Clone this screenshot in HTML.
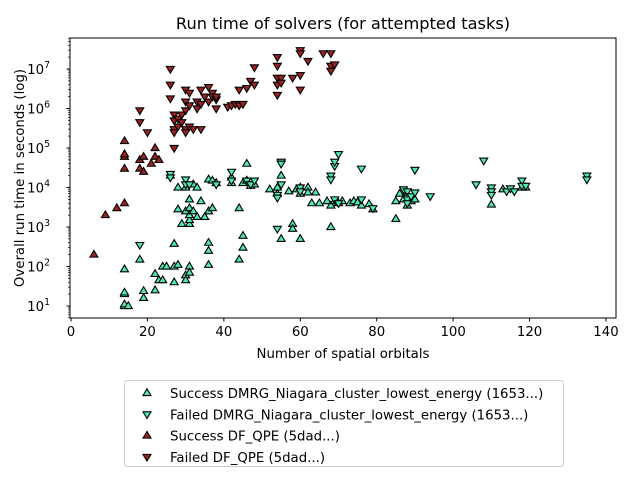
<!DOCTYPE html>
<html><head><meta charset="utf-8"><style>
body{margin:0;background:#fff;}
svg{display:block;font-family:"DejaVu Sans","Liberation Sans",sans-serif;}
</style></head><body>
<svg id="chart" width="640" height="480" viewBox="0 0 640 480" xmlns="http://www.w3.org/2000/svg">
<text x="343" y="29" font-size="16.2" text-anchor="middle">Run time of solvers (for attempted tasks)</text>
<g id="axes"></g>
<g id="marks"></g>
<rect x="70" y="38" width="546" height="280" fill="none" stroke="#000" stroke-width="1"/>
<text x="343" y="358" font-size="13.3" text-anchor="middle">Number of spatial orbitals</text>
<text transform="translate(24,178) rotate(-90)" font-size="13.3" text-anchor="middle">Overall run time in seconds (log)</text>
<g id="legend">
<rect x="124.5" y="380.5" width="439" height="86" rx="3" fill="#fff" stroke="#ccc"/>
</g>
</svg>
<script>
const xTicks=[0,20,40,60,80,100,120,140];
const yTicks=[1,2,3,4,5,6,7];
const seriesNames=["Success DMRG_Niagara_cluster_lowest_energy (1653...)","Failed DMRG_Niagara_cluster_lowest_energy (1653...)","Success DF_QPE (5dad...)","Failed DF_QPE (5dad...)"];
const successDmrgX=[14,14,14,14,14,15,18,19,19,22,22,23,24,24,25,26,27,27,27,28,28,28,29,30,30,30,30,31,31,31,31,31,31,31,32,32,33,33,34,35,36,36,36,36,36,37,37,38,42,42,44,44,45,45,45,46,46,47,48,52,54,54,55,55,57,58,58,59,60,60,60,62,62,63,64,65,67,68,68,69,70,71,73,74,75,76,78,79,85,85,86,87,88,89,90,110,113,118,119];
const successDmrgY=[10,11,20,22,85,10,150,16,24,25,65,45,100,45,100,20000,40,100,375,110,2800,10000,1200,60,45,2500,10000,100,70,1200,1500,2000,3000,5000,2500,12000,1800,10000,4500,1800,110,250,400,2500,16000,3000,15000,13000,13000,18000,150,3000,300,600,13000,40000,15000,11000,12000,9000,7000,10000,500,20000,8000,1200,900,9000,500,7000,10000,10000,7500,4000,7500,4000,4500,1000,3500,4500,4000,4500,4000,4500,4200,3500,3800,2800,1600,4500,7000,5000,3500,4500,5000,3700,9000,10000,10000];
const failedDmrgX=[18,26,26,30,30,31,38,42,42,46,47,48,54,54,54,55,55,55,60,60,68,68,69,69,70,69,70,76,76,79,87,88,88,88,88,88,89,90,90,94,106,108,110,110,110,114,115,116,118,118,119,135,135];
const failedDmrgY=[350,22000,18000,16000,12000,12000,12000,25000,15000,15000,12000,15000,6500,5500,900,45000,40000,12000,10000,8000,20000,16000,35000,45000,70000,5000,4000,30000,5000,3000,9000,8000,6000,5500,5000,4000,6000,28000,7500,6000,12000,48000,10000,8000,6500,8000,9500,8000,15000,11000,11000,20000,16000];
const successQpeX=[6,9,12,14,14,14,14,14,18,18,19,19,21,22,22,23];
const successQpeY=[200,2000,3000,4000,30000,60000,70000,150000,30000,50000,25000,60000,40000,60000,100000,50000];
const failedQpeX=[18,18,20,26,26,26,27,27,27,27,27,28,28,29,29,30,30,30,30,30,31,31,31,32,33,33,34,34,34,35,36,36,37,37,38,38,38,41,42,43,44,44,45,46,47,48,48,54,54,54,54,54,55,55,58,60,60,60,60,62,66,68,68,68,69];
const failedQpeY=[900000,450000,250000,10000000,4000000,1800000,700000,500000,300000,250000,100000,550000,350000,700000,450000,3000000,1500000,900000,300000,250000,2500000,1200000,350000,300000,1500000,1000000,3000000,1300000,300000,2000000,3500000,1500000,2500000,2000000,1700000,2000000,1000000,1100000,1200000,1300000,1200000,3000000,1300000,3300000,5000000,11000000,4000000,20000000,12000000,6000000,4000000,2200000,6000000,4500000,6000000,30000000,25000000,7000000,3000000,16000000,25000000,25000000,12000000,9000000,13000000];

const NS="http://www.w3.org/2000/svg";
function sx(v){return 71+v*(535/140);}
function sy(v){return 306-(Math.log10(v)-1)*39.5;}
function mk(tag,attrs,parent){const e=document.createElementNS(NS,tag);for(const k in attrs)e.setAttribute(k,attrs[k]);parent.appendChild(e);return e;}
const axes=document.getElementById('axes');
xTicks.forEach(t=>{
  const l=mk('line',{x1:sx(t),x2:sx(t),y1:318,y2:321.5,stroke:'#000'},axes);
  
  
  const tx=mk('text',{x:sx(t),y:336,'font-size':'13.3','text-anchor':'middle'},axes);
  tx.textContent=t;
  
  
});
yTicks.forEach(t=>{
  const y=306-(t-1)*39.5;
  const l=mk('line',{x1:66.5,x2:70,y1:y,y2:y,stroke:'#000'},axes);
  
  
  const tx=mk('text',{x:50,y:y+5,'font-size':'13.3','text-anchor':'end'},axes);
  tx.textContent='10';
  const sp=mk('tspan',{dy:'-6','font-size':'9.3'},tx);
  sp.textContent=t;
  
  
});
for(let d=0;d<8;d++){for(let m=2;m<10;m++){const v=Math.pow(10,d)*m;const y=sy(v);if(y<38||y>318)continue;
  const l=mk('line',{x1:68,x2:70,y1:y,y2:y,stroke:'#000','stroke-width':'0.7'},axes);
  
  }}
const marks=document.getElementById('marks');
function tri(x,y,up,fill,parent,name){
  const s=4.2;
  const pts=up?`${x},${y-s} ${x-s*0.95},${y+s*0.6} ${x+s*0.95},${y+s*0.6}`:`${x},${y+s} ${x-s*0.95},${y-s*0.6} ${x+s*0.95},${y-s*0.6}`;
  const p=mk('polygon',{points:pts,fill:fill,stroke:'#000','stroke-width':'1.1'},parent);
  
  
}
const series=[[successDmrgX,successDmrgY,true,'#4fe8b0'],[failedDmrgX,failedDmrgY,false,'#4fe8b0'],[successQpeX,successQpeY,true,'#9b2222'],[failedQpeX,failedQpeY,false,'#9b2222']];
series.forEach((s,i)=>{s[0].forEach((x,j)=>tri(sx(x),sy(s[1][j]),s[2],s[3],marks,'point-series-'+(i+1)));});
const leg=document.getElementById('legend');
series.forEach((s,i)=>{
  const y=393+i*21.3;
  const g=mk('g',{},leg);
  
  
  tri(147,y,s[2],s[3],g,'legend-marker');
  const t=mk('text',{x:170,y:y+5,'font-size':'13.3'},g);
  t.textContent=seriesNames[i];
  
  
});
</script>
</body></html>
